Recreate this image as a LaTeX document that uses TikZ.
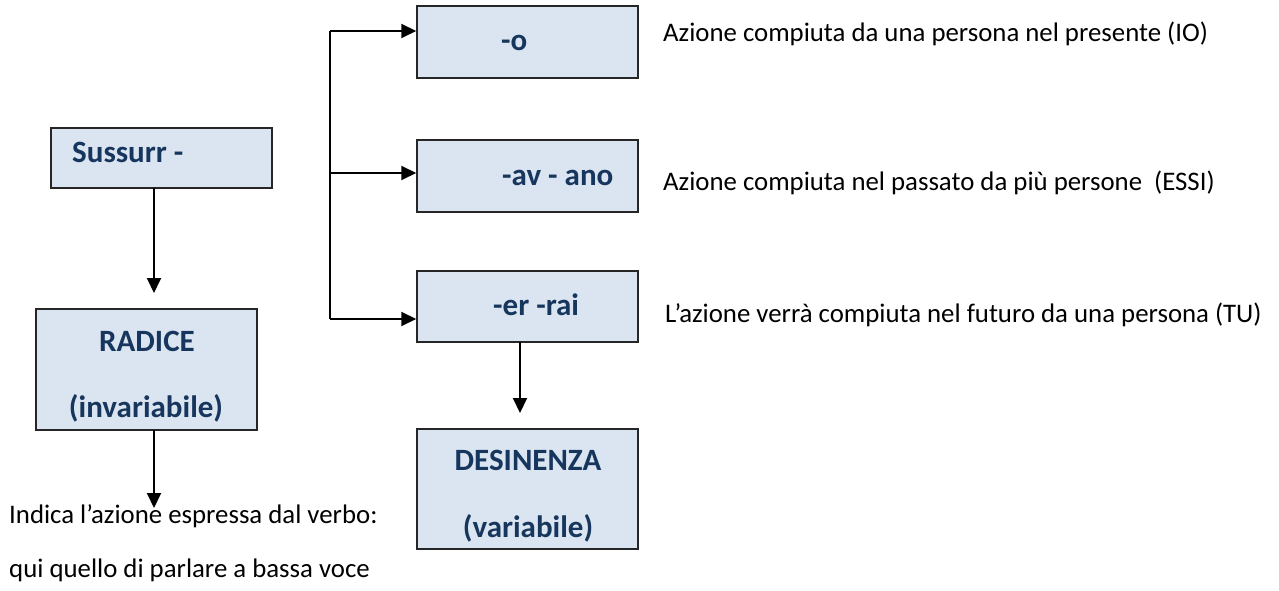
\documentclass[tikz,border=0pt]{standalone}
\usepackage{fontspec}
\setmainfont{Carlito}
\usetikzlibrary{arrows.meta}
\definecolor{boxfill}{HTML}{DBE5F1}
\definecolor{boxtext}{HTML}{17365D}
\tikzset{
  box/.style={draw=black!85, line width=1.5pt, fill=boxfill, inner sep=0pt},
  btext/.style={inner sep=0pt, text=boxtext, font=\fontsize{31}{36}\selectfont\bfseries},
  body/.style={inner sep=0pt, anchor=base west, font=\fontsize{26.8}{30}\selectfont},
  arr/.style={line width=2pt, -{Triangle[length=15pt,width=14pt]}},
  conn/.style={line width=2pt}
}
\begin{document}
\begin{tikzpicture}[x=1pt,y=-1pt]
\useasboundingbox (0,0) rectangle (1279,591);
% boxes
\node[box, minimum width=221pt, minimum height=60pt] (sus) at (161.5,158) {};
\node[box, minimum width=221pt, minimum height=121pt] (rad) at (146.5,369.5) {};
\node[box, minimum width=221pt, minimum height=72pt] (o) at (527.5,42) {};
\node[box, minimum width=221pt, minimum height=72pt] (av) at (527.5,176) {};
\node[box, minimum width=221pt, minimum height=71pt] (er) at (527.5,306.5) {};
\node[box, minimum width=221pt, minimum height=120pt] (des) at (527.5,489) {};
% box texts
\node[btext, anchor=base west] (susT) at (72,162) {Sussurr -};
\node[btext, anchor=base] (radT1) at (147,351) {RADICE};
\node[btext, anchor=base] (radT2) at (146,417) {(invariabile)};
\node[btext, anchor=base west] (oT) at (501,51) {-o};
\node[btext, anchor=base west] (avT) at (502,185) {-av - ano};
\node[btext, anchor=base west] (erT) at (493,315) {-er -rai};
\node[btext, anchor=base] (desT1) at (528,470) {DESINENZA};
\node[btext, anchor=base] (desT2) at (528,537) {(variabile)};
% side texts
\node[body] (t1) at (663,42) {Azione compiuta da una persona nel presente (IO)};
\node[body] (t2) at (663,190) {Azione compiuta nel passato da più persone\ \ (ESSI)};
\node[body] (t3) at (665,322) {L’azione verrà compiuta nel futuro da una persona (TU)};
\node[body] (b1) at (9,523) {Indica l’azione espressa dal verbo:};
\node[body] (b2) at (9,577) {qui quello di parlare a bassa voce};
% connectors
\coordinate (radIn) at (154,293);
\coordinate (radOut) at (154,430);
\coordinate (radTip) at (154,508);
\draw[arr] (154,188) -- (radIn);
\draw[arr] (radOut) -- (radTip);
\coordinate (erOut) at (520,342);
\coordinate (desIn) at (520,413);
\draw[arr] (erOut) -- (desIn);
\coordinate (brA) at (330,31);
\coordinate (brB) at (330,173);
\coordinate (brC) at (330,319);
\draw[conn] (brA) -- (brC);
\draw[arr] (brA) -- (brA -| o.west);
\draw[arr] (brB) -- (brB -| av.west);
\draw[arr] (brC) -- (brC -| er.west);
\end{tikzpicture}
\end{document}
